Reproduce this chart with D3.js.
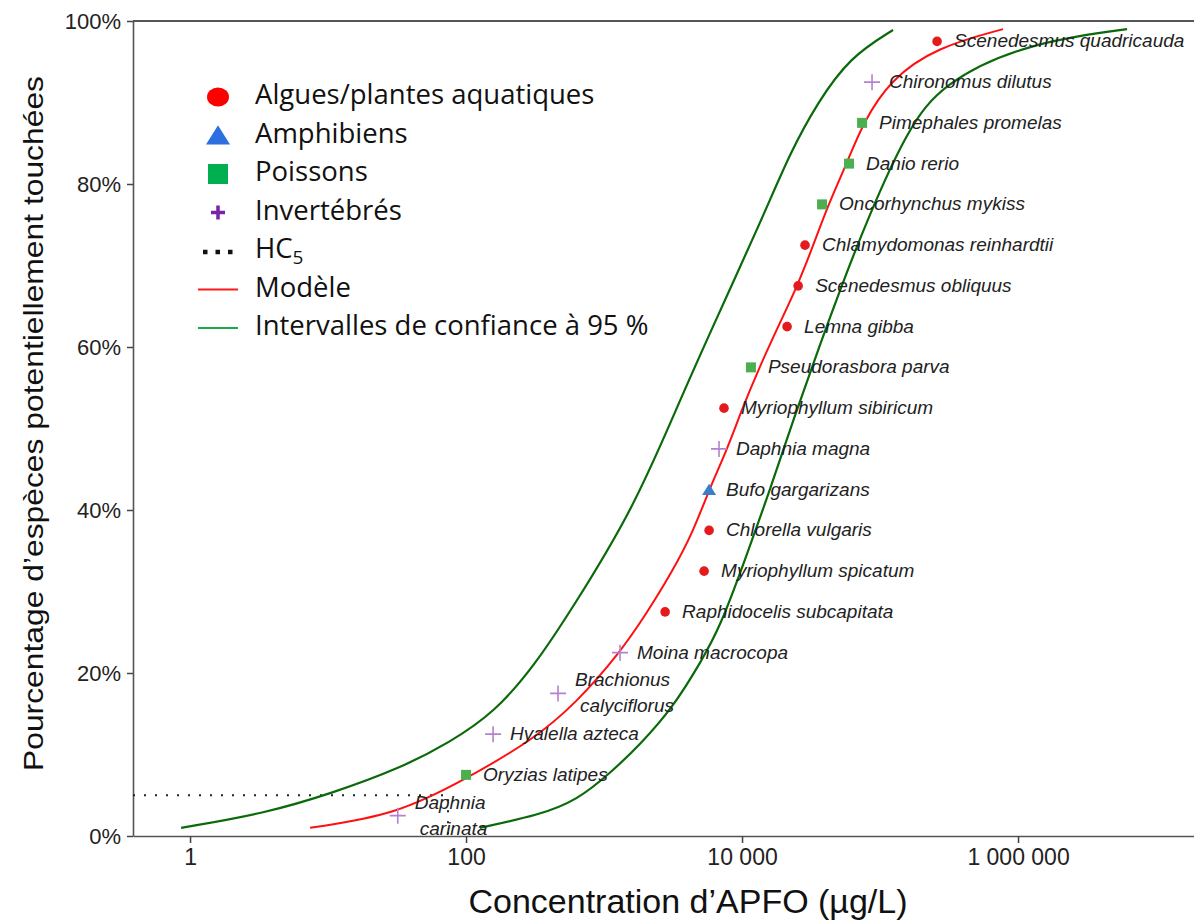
<!DOCTYPE html>
<html>
<head>
<meta charset="utf-8">
<script src="https://cdn.jsdelivr.net/npm/d3@7"></script>
<style>
  body { margin: 0; background: #fff; }
  svg { display: block; }
  .tick text { font-family: "Liberation Sans", Arial, sans-serif; fill: #222; }
  .sp-label { font-family: "Liberation Sans", Arial, sans-serif; font-style: italic; fill: #222; }
  .legend text { font-family: "Open Sans", sans-serif; fill: #111; }
</style>
</head>
<body>
<div class="chart"></div>
<script>
// species sensitivity data (concentration in µg/L, cumulative %)
const species = ["Scenedesmus quadricauda", "Chironomus dilutus", "Pimephales promelas", "Danio rerio",
  "Oncorhynchus mykiss", "Chlamydomonas reinhardtii", "Scenedesmus obliquus", "Lemna gibba",
  "Pseudorasbora parva", "Myriophyllum sibiricum", "Daphnia magna", "Bufo gargarizans",
  "Chlorella vulgaris", "Myriophyllum spicatum", "Raphidocelis subcapitata", "Moina macrocopa",
  "Brachionus\ncalyciflorus", "Hyalella azteca", "Oryzias latipes", "Daphnia\ncarinata"];
const groups = ["algae", "invert", "fish", "fish", "fish", "algae", "algae", "algae",
  "fish", "algae", "invert", "amphib", "algae", "algae", "algae", "invert",
  "invert", "invert", "fish", "invert"];
const concentrations = [259000, 87500, 74100, 59600, 38000, 28600, 25500, 21200,
  11600, 7400, 6810, 5770, 5770, 5310, 2770, 1306, 464, 157, 100, 32];
const percents = [97.5, 92.5, 87.5, 82.5, 77.5, 72.5, 67.5, 62.5, 57.5, 52.5,
  47.5, 42.5, 37.5, 32.5, 27.5, 22.5, 17.5, 12.5, 7.5, 2.5];

// fitted model curve
const modelConc = [7.41, 31.1, 100, 306, 627, 1306, 2049, 3111, 4415, 5767, 7785, 10000,
  13280, 18240, 25040, 32700, 42000, 57680, 75330, 118200, 258800, 778500];
const modelPct = [1.0, 2.6, 7.0, 11.8, 16.3, 22.5, 27.4, 32.4, 37.3, 42.5, 47.4, 52.4,
  57.4, 62.5, 67.4, 72.4, 77.4, 82.6, 87.5, 92.8, 96.8, 99.0];

// 95% confidence bounds
const lowerConc = [0.861, 3.55, 10.9, 33.2, 76.6, 162, 316, 567, 1622, 3553, 6063, 14200, 22270, 34960, 60630, 124200];
const lowerPct = [1.0, 2.8, 5.3, 8.3, 11.5, 15.2, 21.0, 27.5, 40.0, 53.5, 62.3, 76.0, 83.8, 89.9, 95.6, 98.9];
const upperConc = [126, 344, 637, 1105, 1824, 3162, 4963, 6928, 10510, 15960, 24220, 36750, 51300,
  80510, 156900, 281300, 1162000, 6164000];
const upperPct = [1.0, 2.6, 4.4, 7.7, 11.2, 15.8, 21.2, 25.6, 33.9, 42.5, 51.7, 60.3, 67.0,
  75.6, 86.6, 92.4, 97.3, 99.0];

const hc5Conc = 74;
const hc5Pct = 5;

const xTicks = [1, 100, 10000, 1000000];
const yTicks = [0, 20, 40, 60, 80, 100];

const legendLabels = ["Algues/plantes aquatiques", "Amphibiens", "Poissons", "Invertébrés", "HC", "Modèle", "Intervalles de confiance à 95 %"];

const svgWidth = 1194;
const svgHeight = 920;
const margin = { top: 21, right: 0, bottom: 84, left: 133 };
const width = svgWidth - margin.left - margin.right;
const height = svgHeight - margin.top - margin.bottom;

const svg = d3.select(".chart")
  .append("svg")
  .attr("width", svgWidth)
  .attr("height", svgHeight);

const chartGroup = svg.append("g")
  .attr("transform", `translate(${margin.left}, ${margin.top})`);

const xScale = d3.scaleLog()
  .domain([0.386, 1.884e7])
  .range([0, width]);

const yScale = d3.scaleLinear()
  .domain([0, 100])
  .range([height, 0]);

const fr = d3.formatLocale({ decimal: ",", thousands: " ", grouping: [3], currency: ["", " €"] });
const fmt = fr.format(",d");

// axes
const bottomAxis = d3.axisBottom(xScale)
  .tickValues(xTicks)
  .tickFormat(d => fmt(d))
  .tickSizeInner(7)
  .tickSizeOuter(0)
  .tickPadding(6);

const leftAxis = d3.axisLeft(yScale)
  .tickValues(yTicks)
  .tickFormat(d => d + "%")
  .tickSizeInner(6)
  .tickSizeOuter(0)
  .tickPadding(6);

const xAxis = chartGroup.append("g")
  .attr("transform", `translate(0, ${height})`)
  .call(bottomAxis);
xAxis.selectAll("text").style("font-size", "23px");

const yAxis = chartGroup.append("g")
  .call(leftAxis);
yAxis.selectAll("text").style("font-size", "22px");

chartGroup.selectAll(".domain").attr("stroke", "#555").attr("stroke-width", 1.6);
chartGroup.selectAll(".tick line").attr("stroke", "#444").attr("stroke-width", 1.5);

// top border
chartGroup.append("line")
  .attr("x1", 0).attr("x2", width)
  .attr("y1", 0).attr("y2", 0)
  .attr("stroke", "#555")
  .attr("stroke-width", 2);

// HC5 dotted lines
chartGroup.append("path")
  .attr("d", `M0,${yScale(hc5Pct)} H${xScale(hc5Conc)} V${height}`)
  .attr("fill", "none")
  .attr("stroke", "#222")
  .attr("stroke-width", 2)
  .attr("stroke-dasharray", "2,9");

// curves, smoothed
const line = d3.line()
  .x(d => xScale(d[0]))
  .y(d => yScale(d[1]))
  .curve(d3.curveBasis);

chartGroup.append("path")
  .datum(lowerConc.map((c, i) => [c, lowerPct[i]]))
  .attr("d", line)
  .attr("fill", "none")
  .attr("stroke", "#0a6a0a")
  .attr("stroke-width", 2.2);

chartGroup.append("path")
  .datum(upperConc.map((c, i) => [c, upperPct[i]]))
  .attr("d", line)
  .attr("fill", "none")
  .attr("stroke", "#0a6a0a")
  .attr("stroke-width", 2.2);

chartGroup.append("path")
  .datum(modelConc.map((c, i) => [c, modelPct[i]]))
  .attr("d", line)
  .attr("fill", "none")
  .attr("stroke", "#ff1010")
  .attr("stroke-width", 2);

// points
const pointData = species.map((s, i) => ({
  name: s, group: groups[i], conc: concentrations[i], pct: percents[i]
}));

function drawMarker(g, group, big) {
  if (group === "algae") {
    if (big) g.append("ellipse").attr("rx", 11).attr("ry", 9.5).attr("fill", "#ff0000");
    else g.append("circle").attr("r", 4.8).attr("fill", "#e41a1c");
  } else if (group === "amphib") {
    const s = big ? 12 : 7;
    g.append("path")
      .attr("d", `M0,${-s * 0.85} L${s},${s * 0.75} L${-s},${s * 0.75} Z`)
      .attr("fill", big ? "#2b6fe0" : "#3a7ec8");
  } else if (group === "fish") {
    const s = big ? 10 : 5;
    g.append("rect")
      .attr("x", -s).attr("y", -s).attr("width", 2 * s).attr("height", 2 * s)
      .attr("fill", big ? "#00b050" : "#4caf4f");
  } else if (group === "invert") {
    const s = big ? 7 : 8;
    g.append("path")
      .attr("d", `M${-s},0 H${s} M0,${-s} V${s}`)
      .attr("stroke", big ? "#7a22a8" : "#b481cf")
      .attr("stroke-width", big ? 3.5 : 1.6);
  }
}

const pts = chartGroup.selectAll(".pt")
  .data(pointData)
  .enter()
  .append("g")
  .classed("pt", true)
  .attr("transform", d => `translate(${xScale(d.conc)}, ${yScale(d.pct)})`);

pts.each(function(d) { drawMarker(d3.select(this), d.group, false); });

pts.append("text")
  .classed("sp-label", true)
  .style("font-size", "19px")
  .attr("dominant-baseline", "middle")
  .each(function(d) {
    const lines = d.name.split("\n");
    const t = d3.select(this);
    if (lines.length === 1) {
      t.append("tspan").attr("x", 17).attr("y", 1).text(lines[0]);
    } else {
      t.append("tspan").attr("x", 17).attr("y", -12).text(lines[0]);
      t.append("tspan").attr("x", 22).attr("y", 14).text(lines[1]);
    }
  });

// legend
const legend = svg.append("g")
  .classed("legend", true)
  .attr("transform", "translate(218, 97)");

const legendRows = legend.selectAll("g")
  .data(legendLabels)
  .enter()
  .append("g")
  .attr("transform", (d, i) => `translate(0, ${i * 38.5})`);

const legendKeys = ["algae", "amphib", "fish", "invert", "hc5", "model", "ci"];
legendRows.each(function(d, i) {
  const g = d3.select(this);
  const key = legendKeys[i];
  if (key === "hc5") {
    g.append("line").attr("x1", -15).attr("x2", 15).attr("y1", 1).attr("y2", 1)
      .attr("stroke", "#111").attr("stroke-width", 4.5).attr("stroke-dasharray", "4.5,8");
  } else if (key === "model") {
    g.append("line").attr("x1", -20).attr("x2", 20).attr("y1", 0).attr("y2", 0)
      .attr("stroke", "#ff1a1a").attr("stroke-width", 2);
  } else if (key === "ci") {
    g.append("line").attr("x1", -20).attr("x2", 20).attr("y1", 0).attr("y2", 0)
      .attr("stroke", "#1ba84a").attr("stroke-width", 2.2);
  } else {
    drawMarker(g, key, true);
  }
  const t = g.append("text")
    .attr("x", 37)
    .attr("y", 0)
    .attr("dominant-baseline", "middle")
    .style("font-size", "27.5px")
    .text(d);
  if (key === "hc5") {
    t.append("tspan").attr("dy", 8).style("font-size", "19px").text("5");
  }
});

// axis titles
svg.append("text")
  .attr("transform", `translate(${margin.left / 2 - 31}, ${margin.top + height / 2 - 5}) rotate(-90)`)
  .attr("text-anchor", "middle")
  .attr("dominant-baseline", "middle")
  .attr("textLength", 695)
  .attr("lengthAdjust", "spacingAndGlyphs")
  .style("font-family", "'Liberation Sans', Arial, sans-serif")
  .style("font-size", "28px")
  .style("fill", "#111")
  .text("Pourcentage d’espèces potentiellement touchées");

svg.append("text")
  .attr("x", 688)
  .attr("y", 904)
  .attr("text-anchor", "middle")
  .attr("dominant-baseline", "middle")
  .style("font-family", "'Liberation Sans', Arial, sans-serif")
  .style("font-size", "34px")
  .style("fill", "#111")
  .text("Concentration d’APFO (µg/L)");
</script>
</body>
</html>
